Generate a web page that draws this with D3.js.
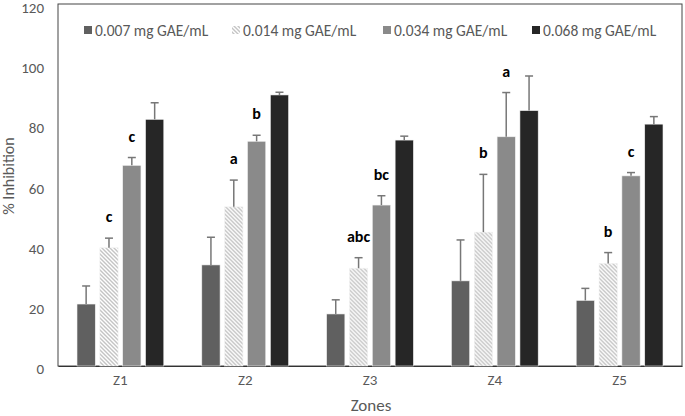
<!DOCTYPE html>
<html><head><meta charset="utf-8">
<script src="https://cdn.jsdelivr.net/npm/d3@7"></script>
<style>body{margin:0;background:#fff}svg{display:block}text{font-family:Carlito,"Open Sans",sans-serif}</style>
</head><body><svg id="c" width="685" height="416"></svg>
<script>
const zones = ["Z1","Z2","Z3","Z4","Z5"];
const seriesNames = ["0.007 mg GAE/mL","0.014 mg GAE/mL","0.034 mg GAE/mL","0.068 mg GAE/mL"];
const s007 = [20.6, 33.6, 17.3, 28.3, 21.8];
const s014 = [39.3, 52.9, 32.5, 44.5, 34.1];
const s034 = [66.7, 74.7, 53.5, 76.2, 63.2];
const s068 = [82.0, 90.1, 75.1, 84.9, 80.4];
const e007 = [6.0, 9.2, 4.7, 13.6, 4.0];
const e014 = [3.2, 8.9, 3.5, 19.2, 3.6];
const e034 = [2.6, 2.0, 3.1, 14.7, 1.1];
const e068 = [5.5, 0.9, 1.3, 11.5, 2.5];
const letters014 = ["c","a","abc","b","b"];
const letters034 = ["c","b","bc","a","c"];
const yTicks = [0,20,40,60,80,100,120];

const values = [s007, s014, s034, s068];
const errors = [e007, e014, e034, e068];
const letters = [null, letters014, letters034, null];
const fills = ["#606060","url(#hatch)","#8a8a8a","#262626"];

const svg = d3.select("#c");
const defs = svg.append("defs");
const pat = defs.append("pattern").attr("id","hatch").attr("patternUnits","userSpaceOnUse")
  .attr("width",4).attr("height",4);
pat.append("rect").attr("width",4).attr("height",4).attr("fill","#ffffff");
pat.append("path").attr("d","M-1,-1 L5,5 M-1,3 L1,5 M3,-1 L5,1").attr("stroke","#c4c4c4").attr("stroke-width",1.4);

const L = 58, R = 682, T = 5, B = 366;
const y = d3.scaleLinear().domain([0,120]).range([B,T]);
const x0 = d3.scaleBand().domain(zones).range([L,R]).padding(0);
const x1 = d3.scaleBand().domain(d3.range(4)).range([19, x0.bandwidth()-19]).paddingInner(0.2);

// frame
svg.append("rect").attr("x",L).attr("y",T-1).attr("width",R-L).attr("height",B-T+1)
  .attr("fill","none").attr("stroke","#444").attr("stroke-width",1);

// y axis labels
const yAx = svg.append("g").attr("transform",`translate(${L},0)`)
  .call(d3.axisLeft(y).tickValues(yTicks).tickSize(0).tickPadding(14));
yAx.select(".domain").remove();
yAx.selectAll("text").attr("fill","#595959").attr("dy","0.5em").style("font-size","15px");

// x axis labels
const xAx = svg.append("g").attr("transform",`translate(0,${B})`)
  .call(d3.axisBottom(x0).tickSize(0).tickPadding(8));
xAx.select(".domain").attr("stroke","#333");
xAx.selectAll("text").attr("fill","#595959").style("font-size","15px");

// bars
zones.forEach((z,i)=>{
  const g = svg.append("g").attr("transform",`translate(${x0(z)},0)`);
  values.forEach((arr,s)=>{
    const v = arr[i];
    const bx = x1(s), bw = x1.bandwidth();
    g.append("rect").attr("x",bx).attr("y",y(v)).attr("width",bw).attr("height",y(0)-y(v))
      .attr("fill",fills[s]).attr("stroke","#f2f2f2").attr("stroke-width",0.6);
    const top = v + errors[s][i];
    const cx = bx + bw/2;
    g.append("line").attr("x1",cx).attr("x2",cx).attr("y1",y(v)).attr("y2",y(top))
      .attr("stroke","#777").attr("stroke-width",1.5);
    g.append("line").attr("x1",cx-4).attr("x2",cx+4).attr("y1",y(top)).attr("y2",y(top))
      .attr("stroke","#777").attr("stroke-width",1.5);
    if (letters[s]) {
      g.append("text").attr("x",cx).attr("y",y(top)-16).attr("text-anchor","middle")
        .style("font-size","16px").style("font-weight","bold").attr("fill","#000")
        .text(letters[s][i]);
    }
  });
});

// legend
const legX = [84, 232, 383, 532];
seriesNames.forEach((n,s)=>{
  svg.append("rect").attr("x",legX[s]).attr("y",26).attr("width",8).attr("height",8).attr("fill",fills[s]);
  svg.append("text").attr("x",legX[s]+11).attr("y",35.5).attr("fill","#595959")
    .style("font-size","15.5px").text(n);
});

// axis titles
svg.append("text").attr("x",371).attr("y",411).attr("text-anchor","middle").attr("fill","#595959")
  .style("font-size","17px").text("Zones");
svg.append("text").attr("transform","translate(14,176) rotate(-90)").attr("text-anchor","middle")
  .attr("fill","#595959").style("font-size","16px").text("% Inhibition");
</script></body></html>
